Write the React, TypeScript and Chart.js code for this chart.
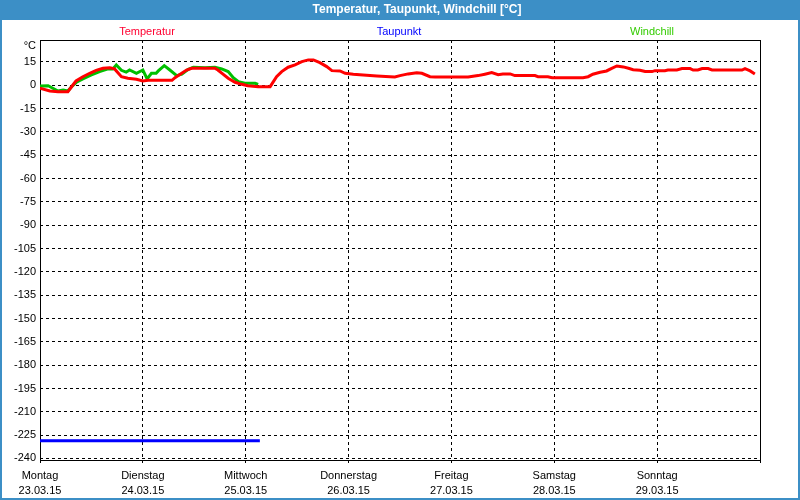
import { useEffect, useRef } from 'react';
import { Chart, registerables } from 'chart.js';

Chart.register(...registerables);

const dayNames = ['Montag', 'Dienstag', 'Mittwoch', 'Donnerstag', 'Freitag', 'Samstag', 'Sonntag'];
const dayDates = ['23.03.15', '24.03.15', '25.03.15', '26.03.15', '27.03.15', '28.03.15', '29.03.15'];
const xTickHours = [0, 24, 48, 72, 96, 120, 144, 168];
const yTickValues = [-240, -225, -210, -195, -180, -165, -150, -135, -120, -105, -90, -75, -60, -45, -30, -15, 0, 15];
const seriesNames = ['Temperatur', 'Taupunkt', 'Windchill'];

const tempHours = [0, 2.3, 4.2, 6.5, 7.5, 8.4, 10.0, 11.6, 13.1, 14.7, 16.3, 17.4, 19.0, 20.5, 22.5, 24.0, 25.2, 28.0, 30.8, 31.5, 32.7, 34.2, 35.4, 36.9, 40.8, 41.5, 42.7, 43.9, 45.5, 47.1, 48.5, 50.9, 53.7, 55.2, 56.4, 57.9, 59.5, 61.1, 62.6, 63.8, 65.3, 66.9, 68.1, 70.0, 71.2, 73.1, 75.4, 78.6, 81.7, 82.8, 84.0, 85.9, 87.9, 89.1, 91.0, 92.2, 99.9, 102.2, 103.8, 105.4, 106.9, 108.0, 109.7, 110.8, 115.5, 116.2, 118.5, 119.5, 126.7, 127.9, 129.0, 130.7, 132.2, 133.4, 134.6, 136.1, 137.3, 138.4, 140.0, 141.2, 142.8, 143.5, 145.8, 146.5, 148.6, 149.8, 151.7, 152.4, 153.5, 154.5, 155.9, 156.8, 163.8, 164.5, 165.7, 166.8];
const tempValues = [-1.9, -3.7, -4.1, -4.1, -0.5, 2.8, 5.5, 7.7, 9.6, 10.9, 11.3, 10.5, 5.5, 4.5, 3.9, 2.8, 3.2, 3.2, 3.2, 4.9, 7.1, 9.8, 10.9, 10.9, 10.9, 9.8, 7.1, 4.5, 1.9, 0.6, -0.3, -0.9, -0.9, 5.5, 8.8, 11.6, 13.1, 15.2, 16.3, 16.3, 14.5, 12.0, 9.4, 9.2, 7.7, 7.1, 6.6, 6.0, 5.5, 5.3, 6.2, 7.3, 8.1, 7.7, 5.5, 5.3, 5.3, 6.2, 7.1, 8.1, 6.8, 7.3, 7.3, 6.2, 6.2, 5.5, 5.5, 4.9, 4.9, 5.5, 7.1, 8.4, 9.2, 10.9, 12.4, 11.8, 10.9, 10.0, 9.6, 8.8, 8.8, 9.4, 9.4, 9.8, 9.8, 10.7, 10.7, 9.8, 9.8, 10.7, 10.7, 9.8, 9.8, 10.7, 9.2, 7.3];

const dewHours = [0, 51.3];
const dewValues = [-228.7, -228.7];

const chillHours = [0, 1.9, 3.0, 4.2, 5.4, 6.5, 7.3, 8.5, 10.0, 12.0, 13.9, 15.9, 17.0, 17.8, 19.0, 20.1, 20.9, 22.5, 24.0, 25.0, 26.0, 27.1, 27.6, 29.0, 30.3, 31.9, 33.1, 34.6, 35.8, 38.5, 40.8, 42.4, 43.9, 45.1, 46.3, 47.8, 50.2, 50.9];
const chillValues = [-0.5, -0.3, -1.9, -3.7, -3.0, -3.7, -1.1, 1.9, 4.1, 6.6, 8.8, 10.5, 10.5, 13.1, 9.6, 8.4, 9.8, 7.7, 9.8, 4.1, 7.7, 7.7, 9.2, 12.6, 9.8, 6.2, 7.1, 10.3, 11.6, 11.3, 11.6, 10.5, 8.8, 4.9, 2.3, 1.3, 1.3, 0.6];

const FONT = '"Liberation Sans", Arial, sans-serif';

const toPoints = (xs: number[], ys: number[]) => xs.map((x, i) => ({ x, y: ys[i] }));

const decorPlugin = {
  id: 'decor',
  beforeDraw(chart: any) {
    const ctx = chart.ctx;
    ctx.save();
    ctx.fillStyle = '#3c8fc6';
    ctx.fillRect(0, 0, 800, 500);
    ctx.fillStyle = '#ffffff';
    ctx.fillRect(2, 20, 796, 478);
    ctx.restore();
  },
  beforeDatasetsDraw(chart: any) {
    const { ctx, chartArea: a } = chart;
    ctx.save();
    ctx.strokeStyle = '#000000';
    ctx.lineWidth = 1;
    ctx.setLineDash([]);
    ctx.strokeRect(Math.round(a.left) + 0.5, Math.round(a.top) + 0.5, Math.round(a.right - a.left), Math.round(a.bottom - a.top));
    ctx.restore();
  },
  afterDraw(chart: any) {
    const ctx = chart.ctx;
    ctx.save();
    ctx.textBaseline = 'middle';
    ctx.textAlign = 'center';
    ctx.fillStyle = '#ffffff';
    ctx.font = `bold 12px ${FONT}`;
    ctx.fillText('Temperatur, Taupunkt, Windchill [°C]', 417, 10);
    ctx.font = `11px ${FONT}`;
    const legendColors = ['#ff0030', '#0000ff', '#33cc00'];
    const legendX = [147, 399, 652];
    seriesNames.forEach((n, i) => {
      ctx.fillStyle = legendColors[i];
      ctx.fillText(n, legendX[i], 32);
    });
    ctx.fillStyle = '#000000';
    ctx.textAlign = 'right';
    ctx.fillText('°C', 36, 46);
    ctx.restore();
  },
};

export default function App() {
  const ref = useRef<HTMLCanvasElement | null>(null);
  useEffect(() => {
    document.body.style.margin = '0';
    document.body.style.overflow = 'hidden';
    if (!ref.current) return;
    const chart = new Chart(ref.current, {
      type: 'line',
      data: {
        datasets: [
          { label: seriesNames[0], data: toPoints(tempHours, tempValues), borderColor: '#ff0000', borderWidth: 3, pointRadius: 0, tension: 0, fill: false },
          { label: seriesNames[1], data: toPoints(dewHours, dewValues), borderColor: '#0000ff', borderWidth: 3, pointRadius: 0, tension: 0, fill: false },
          { label: seriesNames[2], data: toPoints(chillHours, chillValues), borderColor: '#00c000', borderWidth: 3, pointRadius: 0, tension: 0, fill: false },
        ],
      },
      options: {
        animation: false,
        responsive: false,
        devicePixelRatio: 1,
        layout: { padding: { left: 0, top: 40, right: 40, bottom: 0 } },
        plugins: { legend: { display: false }, title: { display: false }, tooltip: { enabled: false } },
        scales: {
          x: {
            type: 'linear',
            min: 0,
            max: 168,
            afterBuildTicks: (s: any) => { s.ticks = xTickHours.map((v) => ({ value: v })); },
            afterFit: (s: any) => { s.height = 40; },
            grid: { color: '#000000', lineWidth: 1, drawTicks: true, tickLength: 3, tickColor: '#000000' },
            border: { display: false, dash: [3, 3] },
            ticks: {
              autoSkip: false,
              maxRotation: 0,
              padding: 5,
              color: '#000000',
              font: { family: FONT, size: 11, lineHeight: 1.4 },
              callback: (v: any) => {
                const i = xTickHours.indexOf(Number(v));
                return i >= 0 && i < dayNames.length ? [dayNames[i], dayDates[i]] : '';
              },
            },
          },
          y: {
            type: 'linear',
            min: -241,
            max: 29.1,
            afterBuildTicks: (s: any) => { s.ticks = yTickValues.map((v) => ({ value: v })); },
            afterFit: (s: any) => { s.width = 40; },
            grid: { color: '#000000', lineWidth: 1, drawTicks: false },
            border: { display: false, dash: [3, 3] },
            ticks: {
              padding: 4,
              color: '#000000',
              font: { family: FONT, size: 11 },
              callback: (v: any) => String(v),
            },
          },
        },
      },
      plugins: [decorPlugin],
    } as any);
    return () => chart.destroy();
  }, []);
  return <canvas ref={ref} width={800} height={500} style={{ display: 'block' }} />;
}
